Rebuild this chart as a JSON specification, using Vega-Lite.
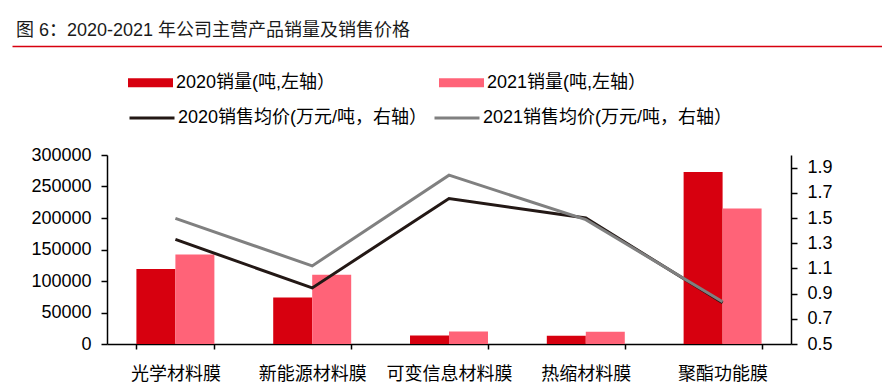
{
  "$schema": "https://vega.github.io/schema/vega-lite/v6.json",
  "padding": {"left": 12, "top": 22, "right": 0, "bottom": 0},
  "spacing": 8,
  "datasets": {
    "bars": [
      {"cat": "光学材料膜", "series": "2020销量(吨,左轴）", "value": 119000},
      {"cat": "光学材料膜", "series": "2021销量(吨,左轴）", "value": 142000},
      {"cat": "新能源材料膜", "series": "2020销量(吨,左轴）", "value": 74000},
      {"cat": "新能源材料膜", "series": "2021销量(吨,左轴）", "value": 110000},
      {"cat": "可变信息材料膜", "series": "2020销量(吨,左轴）", "value": 13500},
      {"cat": "可变信息材料膜", "series": "2021销量(吨,左轴）", "value": 20000},
      {"cat": "热缩材料膜", "series": "2020销量(吨,左轴）", "value": 13000},
      {"cat": "热缩材料膜", "series": "2021销量(吨,左轴）", "value": 19500},
      {"cat": "聚酯功能膜", "series": "2020销量(吨,左轴）", "value": 273000},
      {"cat": "聚酯功能膜", "series": "2021销量(吨,左轴）", "value": 215000}
    ],
    "lines": [
      {"cat": "光学材料膜", "series": "2020销售均价(万元/吨，右轴）", "price": 1.33},
      {"cat": "新能源材料膜", "series": "2020销售均价(万元/吨，右轴）", "price": 0.945},
      {"cat": "可变信息材料膜", "series": "2020销售均价(万元/吨，右轴）", "price": 1.655},
      {"cat": "热缩材料膜", "series": "2020销售均价(万元/吨，右轴）", "price": 1.5},
      {"cat": "聚酯功能膜", "series": "2020销售均价(万元/吨，右轴）", "price": 0.827},
      {"cat": "光学材料膜", "series": "2021销售均价(万元/吨，右轴）", "price": 1.497},
      {"cat": "新能源材料膜", "series": "2021销售均价(万元/吨，右轴）", "price": 1.12},
      {"cat": "可变信息材料膜", "series": "2021销售均价(万元/吨，右轴）", "price": 1.84},
      {"cat": "热缩材料膜", "series": "2021销售均价(万元/吨，右轴）", "price": 1.487},
      {"cat": "聚酯功能膜", "series": "2021销售均价(万元/吨，右轴）", "price": 0.835}
    ]
  },
  "config": {
    "view": {"stroke": null},
    "font": "Liberation Sans, Noto Sans CJK SC",
    "axis": {"labelFont": "Liberation Sans, Noto Sans CJK SC"},
    "legend": {"labelFont": "Liberation Sans, Noto Sans CJK SC"}
  },
  "vconcat": [
    {
      "width": 775,
      "height": 0.01,
      "title": {
        "text": "图 6：2020-2021 年公司主营产品销量及销售价格",
        "anchor": "start",
        "fontSize": 18,
        "fontWeight": "normal",
        "color": "#1a1a1a",
        "font": "Liberation Sans, Noto Sans CJK SC",
        "offset": 0,
        "dx": 4
      },
      "data": {"values": [{"t": "", "v": 0}]},
      "mark": {"type": "text"},
      "encoding": {
        "text": {"field": "t"},
        "x": {
          "field": "v",
          "type": "quantitative",
          "scale": {"domain": [0, 1], "range": [-95, 775]},
          "axis": {
            "title": null,
            "grid": false,
            "ticks": false,
            "labels": false,
            "domainColor": "#D7000F",
            "domainWidth": 1.5
          }
        }
      }
    },
    {
      "width": 684,
      "height": 189,
      "layer": [
        {
          "data": {"name": "bars"},
          "mark": {"type": "bar"},
          "encoding": {
            "x": {
              "field": "cat",
              "type": "nominal",
              "sort": null,
              "scale": {
                "domain": ["光学材料膜", "新能源材料膜", "可变信息材料膜", "热缩材料膜", "聚酯功能膜"],
                "paddingInner": 0.43,
                "paddingOuter": 0.215
              },
              "axis": {
                "title": null,
                "tickBand": "extent",
                "labelAngle": 0,
                "labelFontSize": 18,
                "labelColor": "black",
                "labelPadding": 16,
                "domainColor": "black",
                "domainWidth": 1.5,
                "tickColor": "black",
                "tickWidth": 1.5,
                "tickSize": 5
              }
            },
            "xOffset": {
              "field": "series",
              "type": "nominal",
              "sort": null,
              "scale": {"paddingInner": 0, "paddingOuter": 0}
            },
            "y": {
              "field": "value",
              "type": "quantitative",
              "scale": {"domain": [0, 300000], "nice": false},
              "axis": {
                "title": null,
                "grid": false,
                "values": [0, 50000, 100000, 150000, 200000, 250000, 300000],
                "format": "d",
                "labelFontSize": 18,
                "labelColor": "black",
                "labelPadding": 10,
                "domainColor": "black",
                "domainWidth": 1.5,
                "tickColor": "black",
                "tickWidth": 1.5,
                "tickSize": 6,
                "minExtent": 95
              }
            },
            "color": {
              "field": "series",
              "type": "nominal",
              "sort": null,
              "scale": {
                "domain": ["2020销量(吨,左轴）", "2021销量(吨,左轴）"],
                "range": ["#D7000F", "#FF6378"]
              },
              "legend": {
                "orient": "none",
                "legendX": 21,
                "legendY": -95,
                "direction": "horizontal",
                "columns": 2,
                "title": null,
                "symbolType": "M-1,-0.2H1V0.2H-1Z",
                "symbolSize": 2025,
                "symbolStrokeWidth": 0,
                "symbolOpacity": 1,
                "labelFontSize": 18,
                "labelColor": "black",
                "labelOffset": 3,
                "labelLimit": 400,
                "columnPadding": 103,
                "padding": 0
              }
            }
          }
        },
        {
          "data": {"name": "lines"},
          "mark": {"type": "line", "strokeWidth": 3},
          "encoding": {
            "x": {"field": "cat", "type": "nominal", "sort": null},
            "y": {
              "field": "price",
              "type": "quantitative",
              "scale": {"domain": [0.5, 2.0], "nice": false, "zero": false},
              "axis": {
                "orient": "right",
                "title": null,
                "grid": false,
                "values": [0.5, 0.7, 0.9, 1.1, 1.3, 1.5, 1.7, 1.9],
                "format": ".1f",
                "labelFontSize": 18,
                "labelColor": "black",
                "labelPadding": 10,
                "domainColor": "black",
                "domainWidth": 1.5,
                "tickColor": "black",
                "tickWidth": 1.5,
                "tickSize": 6
              }
            },
            "color": {
              "field": "series",
              "type": "nominal",
              "sort": null,
              "scale": {
                "domain": ["2020销售均价(万元/吨，右轴）", "2021销售均价(万元/吨，右轴）"],
                "range": ["#231815", "#808080"]
              },
              "legend": {
                "orient": "none",
                "legendX": 21,
                "legendY": -61,
                "direction": "horizontal",
                "columns": 2,
                "title": null,
                "symbolType": "stroke",
                "symbolSize": 2025,
                "symbolStrokeWidth": 3,
                "labelFontSize": 18,
                "labelColor": "black",
                "labelOffset": 2,
                "labelLimit": 400,
                "columnPadding": 0,
                "padding": 0
              }
            }
          }
        }
      ],
      "resolve": {
        "scale": {"y": "independent", "color": "independent"},
        "legend": {"color": "independent"}
      }
    }
  ]
}
